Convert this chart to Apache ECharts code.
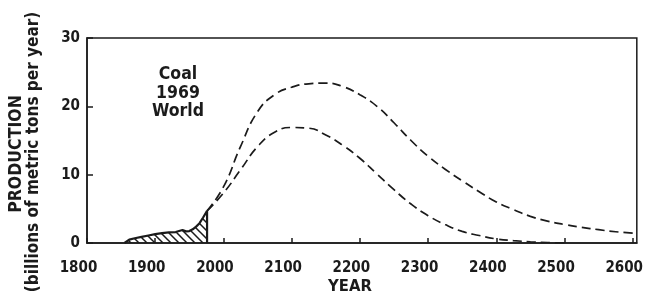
<!DOCTYPE html>
<html>
<head>
<meta charset="utf-8">
<script src="https://cdn.jsdelivr.net/npm/echarts@6/dist/echarts.min.js"></script>
<style>
html,body{margin:0;padding:0;background:#fff;}
#chart{width:646px;height:298px;}
</style>
</head>
<body>
<div id="chart"></div>
<script>
// ---- data ----
const xTicks = [1800, 1900, 2000, 2100, 2200, 2300, 2400, 2500, 2600];
const yTicks = [0, 10, 20, 30];

const histYears = [1855, 1862, 1870, 1880, 1890, 1900, 1910, 1920, 1930, 1940, 1945, 1950, 1955, 1960, 1965, 1970, 1976, 1976];
const histValues = [0, 0.5, 0.7, 0.9, 1.1, 1.3, 1.45, 1.55, 1.6, 1.9, 1.7, 1.75, 2.0, 2.4, 2.9, 3.7, 4.7, 0];

const highYears = [1976, 2000, 2025, 2050, 2075, 2100, 2125, 2150, 2175, 2200, 2225, 2250, 2275, 2300, 2325, 2350, 2375, 2400, 2425, 2450, 2475, 2500, 2525, 2550, 2575, 2606];
const highValues = [4.7, 8.2, 14.1, 19.2, 21.7, 22.8, 23.3, 23.4, 22.9, 21.7, 20.0, 17.6, 15.0, 12.7, 10.8, 9.1, 7.5, 6.0, 4.9, 3.9, 3.2, 2.7, 2.3, 1.95, 1.65, 1.4];

const lowYears = [1976, 2000, 2025, 2050, 2075, 2100, 2125, 2150, 2175, 2200, 2225, 2250, 2275, 2300, 2325, 2350, 2375, 2400, 2425, 2450, 2475, 2500];
const lowValues = [4.7, 7.3, 10.7, 14.1, 16.2, 16.9, 16.8, 15.8, 14.3, 12.4, 10.1, 7.8, 5.7, 4.0, 2.7, 1.7, 1.1, 0.6, 0.35, 0.18, 0.07, 0];

const titleLines = ['Coal', '1969', 'World'];
const yName1 = 'PRODUCTION';
const yName2 = '(billions of metric tons per year)';
const xName = 'YEAR';

// ---- helpers ----
const zip = (xs, ys) => xs.map((x, i) => [x, ys[i]]);
const FONT = "'DejaVu Sans Condensed', 'Liberation Sans Narrow', sans-serif";
const INK = '#1b1b1b';

function hatchPattern() {
  const c = document.createElement('canvas');
  const s = 8;
  c.width = s; c.height = s;
  const g = c.getContext('2d');
  g.strokeStyle = INK;
  g.lineWidth = 1.5;
  g.beginPath();
  g.moveTo(-1, -1); g.lineTo(s + 1, s + 1);
  g.moveTo(-1, s - 1); g.lineTo(1, s + 1);
  g.moveTo(s - 1, -1); g.lineTo(s + 1, 1);
  g.stroke();
  return c;
}

const chart = echarts.init(document.getElementById('chart'), null, {renderer: 'canvas'});

const option = {
  animation: false,
  backgroundColor: '#fff',
  grid: {
    left: 87, right: 9, top: 38, bottom: 55,
    show: true, borderColor: INK, borderWidth: 1.5, backgroundColor: 'transparent'
  },
  xAxis: {
    type: 'value',
    min: 1800, max: 2606, interval: 100,
    axisLine: {show: true, lineStyle: {color: INK, width: 1.5}},
    axisTick: {show: true, inside: true, length: 5, lineStyle: {color: INK, width: 1.5}},
    splitLine: {show: false},
    axisLabel: {
      color: INK, fontFamily: FONT, fontWeight: 'bold', fontSize: 15,
      margin: 18, padding: [0, 17, 0, 0],
      showMaxLabel: false,
      formatter: v => (xTicks.indexOf(v) >= 0 ? String(v) : '')
    }
  },
  yAxis: {
    type: 'value',
    min: 0, max: 30, interval: 10,
    axisLine: {show: true, lineStyle: {color: INK, width: 1.5}},
    axisTick: {show: true, inside: true, length: 6, lineStyle: {color: INK, width: 1.5}},
    splitLine: {show: false},
    axisLabel: {
      color: INK, fontFamily: FONT, fontWeight: 'bold', fontSize: 15,
      margin: 7, padding: [0, 0, 5, 0],
      formatter: v => (yTicks.indexOf(v) >= 0 ? String(v) : '')
    }
  },
  series: [
    {
      type: 'line',
      data: zip(histYears, histValues),
      showSymbol: false,
      lineStyle: {color: INK, width: 2.2},
      areaStyle: {color: {image: hatchPattern(), repeat: 'repeat'}, opacity: 1},
      z: 3
    },
    {
      type: 'line',
      data: zip(highYears, highValues),
      showSymbol: false,
      smooth: 0.5,
      lineStyle: {color: INK, width: 1.7, type: [9, 5]},
      z: 2
    },
    {
      type: 'line',
      data: zip(lowYears, lowValues),
      showSymbol: false,
      smooth: 0.5,
      lineStyle: {color: INK, width: 1.7, type: [9, 5]},
      z: 2
    }
  ],
  graphic: [
    {
      type: 'text', x: 178, y: 93,
      style: {
        text: titleLines.join('\n'), fill: INK, font: "bold 17.5px " + FONT,
        align: 'center', verticalAlign: 'middle', lineHeight: 18.5
      }
    },
    {
      type: 'text', x: 350, y: 287,
      style: {text: xName, fill: INK, font: "bold 16.5px " + FONT, align: 'center', verticalAlign: 'middle'}
    },
    {
      type: 'text', x: 16, y: 154, rotation: Math.PI / 2,
      style: {text: yName1, fill: INK, font: "bold 17.5px " + FONT, align: 'center', verticalAlign: 'middle'}
    },
    {
      type: 'text', x: 34, y: 152, rotation: Math.PI / 2,
      style: {text: yName2, fill: INK, font: "bold 17px " + FONT, align: 'center', verticalAlign: 'middle'}
    }
  ]
};
chart.setOption(option);
</script>
</body>
</html>
